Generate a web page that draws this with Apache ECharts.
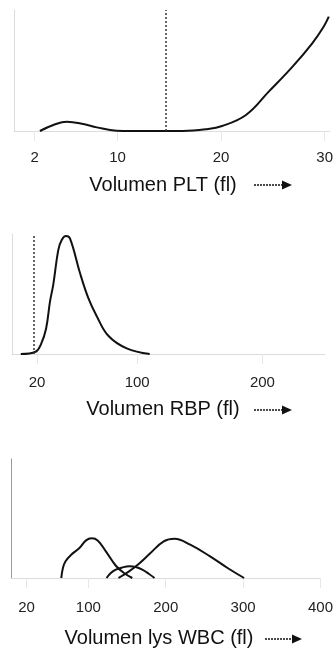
<!DOCTYPE html>
<html>
<head>
<meta charset="utf-8">
<script src="https://cdn.jsdelivr.net/npm/echarts@6/dist/echarts.min.js"></script>
<style>
  html, body { margin: 0; padding: 0; background: #fff; }
  #chart { width: 336px; height: 648px; }
</style>
</head>
<body>
<div id="chart"></div>
<script>
// PLT histogram: [volume fl, relative count]
var pltCurve = [[2.5,0],[3.8,5],[5.1,7.7],[6.7,5.8],[8,3],[9.9,0.3],[13,0],[16.3,0],[18.5,1.4],
  [20.1,4.1],[22.4,13.2],[24.6,32.5],[26.9,53.2],[28.8,72.5],[29.9,86.2],[30.4,94.5]];
var pltTicks = [2, 10, 20, 30];
var pltCutoff = [14.7];

// RBP (red cell) histogram
var rbpCurve = [[7,0],[18.9,1.9],[23.2,8.3],[27.2,21],[30.4,44],[33,58],[37,86.8],[39.7,95],
  [43.1,98.3],[46.3,96.4],[54.3,67.5],[60.9,46.8],[67.6,31.7],[76.9,15.2],[91.6,4.7],[110,0]];
var rbpTicks = [20, 100, 200];
var rbpCutoff = [17.5];

// WBC histogram, three populations
var wbcLymph = [[65,0],[67.1,8.4],[70.5,14],[77.8,19.6],[88.5,25.2],[97,31.6],[104.3,33.3],[112,31.6],
  [122.6,22.4],[135.5,10.3],[146,4.2],[156.8,0]];
var wbcMid = [[123.5,0],[129,4.2],[135.5,7],[144,8.9],[153.4,9.8],[161,9.2],[169.6,7],[178,3.6],[185.5,0]];
var wbcGran = [[138.9,0],[152.6,5.6],[165.4,12],[180.3,21],[197.4,30.8],[211.5,33],[231.6,28],
  [257.3,18.2],[279.9,8.4],[301.3,0]];
var wbcTicks = [20, 100, 200, 300, 400];

var font = 'Liberation Sans, Arial, sans-serif';

function xAxisFor(idx, max, ticks, margin) {
    return {
        type: 'value', gridIndex: idx, min: 0, max: max,
        axisLine: { show: true, onZero: false, lineStyle: { color: '#dcdcdc', width: 1 } },
        axisTick: { show: true, customValues: ticks, length: 10, lineStyle: { color: '#e8e8e8' } },
        axisLabel: { customValues: ticks, fontSize: 15, color: '#222', fontFamily: font, margin: margin },
        splitLine: { show: false }
    };
}
function yAxisFor(idx, color) {
    return {
        type: 'value', gridIndex: idx, min: 0, max: 100,
        axisLine: { show: true, lineStyle: { color: color, width: 1 } },
        axisTick: { show: false }, axisLabel: { show: false }, splitLine: { show: false }
    };
}
function curve(idx, data, cutoff) {
    var s = {
        type: 'line', xAxisIndex: idx, yAxisIndex: idx, data: data,
        smooth: 0.4, showSymbol: false, clip: false,
        lineStyle: { color: '#111', width: 2 }
    };
    if (cutoff) {
        s.markLine = {
            silent: true, symbol: 'none', label: { show: false },
            lineStyle: { color: '#333', type: [2, 2], width: 1.5 },
            data: cutoff.map(function (v) { return { xAxis: v }; })
        };
    }
    return s;
}
function arrow(x1, x2, y) {
    return [
        { type: 'line', shape: { x1: x1, y1: y, x2: x2 - 8, y2: y },
          style: { stroke: '#111', lineWidth: 1.5, lineDash: [2, 1] } },
        { type: 'polygon', shape: { points: [[x2 - 10, y - 4.5], [x2, y], [x2 - 10, y + 4.5]] },
          style: { fill: '#111' } }
    ];
}
function label(text, x, y) {
    return { type: 'text', style: { text: text, x: x, y: y, fill: '#111', fontSize: 20, fontFamily: font,
        textAlign: 'center', textVerticalAlign: 'middle' } };
}

var chart = echarts.init(document.getElementById('chart'));
var option = {
    backgroundColor: '#fff',
    animation: false,
    grid: [
        { left: 14, width: 316, top: 10, height: 121 },
        { left: 12, width: 313, top: 234, height: 120 },
        { left: 11, width: 312, top: 459, height: 119 }
    ],
    xAxis: [xAxisFor(0, 30.5, pltTicks, 19), xAxisFor(1, 250, rbpTicks, 21), xAxisFor(2, 400, wbcTicks, 22)],
    yAxis: [yAxisFor(0, '#dcdcdc'), yAxisFor(1, '#dcdcdc'), yAxisFor(2, '#999')],
    series: [
        curve(0, pltCurve, pltCutoff),
        curve(1, rbpCurve, rbpCutoff),
        curve(2, wbcLymph), curve(2, wbcMid), curve(2, wbcGran)
    ],
    graphic: [
        label('Volumen PLT (fl)', 163, 185),
        label('Volumen RBP (fl)', 163, 409),
        label('Volumen lys WBC (fl)', 159, 638)
    ].concat(arrow(254, 292, 185), arrow(254, 292, 410), arrow(265, 302, 639))
};
chart.setOption(option);
window.addEventListener('resize', function () { chart.resize(); });
</script>
</body>
</html>
